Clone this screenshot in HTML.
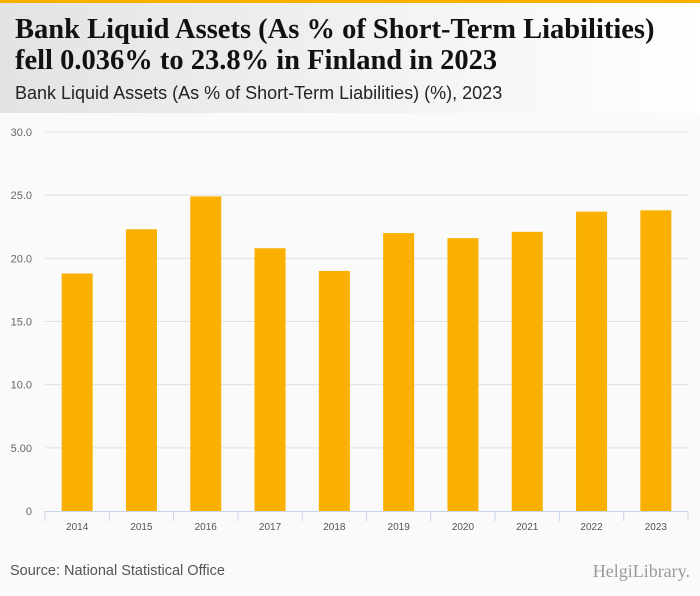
<!DOCTYPE html>
<html><head><meta charset="utf-8"><style>
body{margin:0;width:700px;height:596px;overflow:hidden;background:#fafafa;font-family:"Liberation Sans",sans-serif}
#hdr{position:absolute;left:0;top:0;width:700px;height:113px;background:linear-gradient(90deg,#e3e3e3,#ffffff);border-top:3px solid #f9b000;box-sizing:border-box}
#t{position:absolute;left:15px;top:11px;font-family:"Liberation Serif",serif;font-weight:bold;font-size:28.5px;line-height:31px;color:#111}
#st{position:absolute;left:15px;top:80px;font-size:18px;color:#222}
#src{position:absolute;left:10px;top:563px;font-size:14.5px;color:#555}
#logo{position:absolute;right:10px;top:561px;font-family:"Liberation Serif",serif;font-size:18px;color:#999}
</style></head><body>
<div id="hdr">
<div id="t">Bank Liquid Assets (As % of Short-Term Liabilities)<br>fell 0.036% to 23.8% in Finland in 2023</div>
<div id="st">Bank Liquid Assets (As % of Short-Term Liabilities) (%), 2023</div>
</div>
<svg id="c" width="700" height="596" style="position:absolute;left:0;top:0"></svg>
<div id="src">Source: National Statistical Office</div>
<div id="logo">HelgiLibrary.</div>
<script>
const categories=["2014","2015","2016","2017","2018","2019","2020","2021","2022","2023"];
const values=[18.8,22.3,24.9,20.8,19.0,22.0,21.6,22.1,23.7,23.8];
const yTicks=[0,5,10,15,20,25,30];
const yTickLabels=["0","5.00","10.0","15.0","20.0","25.0","30.0"];
const svg=document.getElementById('c');const NS="http://www.w3.org/2000/svg";
const x0=45,x1=688,y0=511,y1=132,yMax=30;
const y=v=>y0-(v/yMax)*(y0-y1);
const bw=(x1-x0)/categories.length;
const x=i=>x0+bw*i;
function mk(t,a){const e=document.createElementNS(NS,t);for(const k in a)e.setAttribute(k,a[k]);svg.appendChild(e);return e;}
yTicks.forEach((t,i)=>{
 if(t>0){const l=mk('line',{x1:x0,x2:x1,y1:y(t),y2:y(t),stroke:'#e0e0e0'});
 
 }
 const tx=mk('text',{x:32,y:y(t)+4,'text-anchor':'end','font-size':'11',fill:'#666','font-family':'Liberation Sans, sans-serif'});tx.textContent=yTickLabels[i];
 
 
});
values.forEach((v,i)=>{
 const r=mk('rect',{x:x(i)+bw/2-15.5,y:y(v),width:31,height:y0-y(v),fill:'#f9b000'});
 
 
 const tx=mk('text',{x:x(i)+bw/2,y:530,'text-anchor':'middle','font-size':'10',fill:'#555','font-family':'Liberation Sans, sans-serif'});tx.textContent=categories[i];
 
 
});
const ax=mk('line',{x1:x0,x2:x1,y1:y0+0.5,y2:y0+0.5,stroke:'#c8d4e8'});


for(let i=0;i<=categories.length;i++){const tk=mk('line',{x1:x(i),x2:x(i),y1:y0,y2:y0+10,stroke:'#c8d4e8'});
 
 }
</script>
</body></html>
